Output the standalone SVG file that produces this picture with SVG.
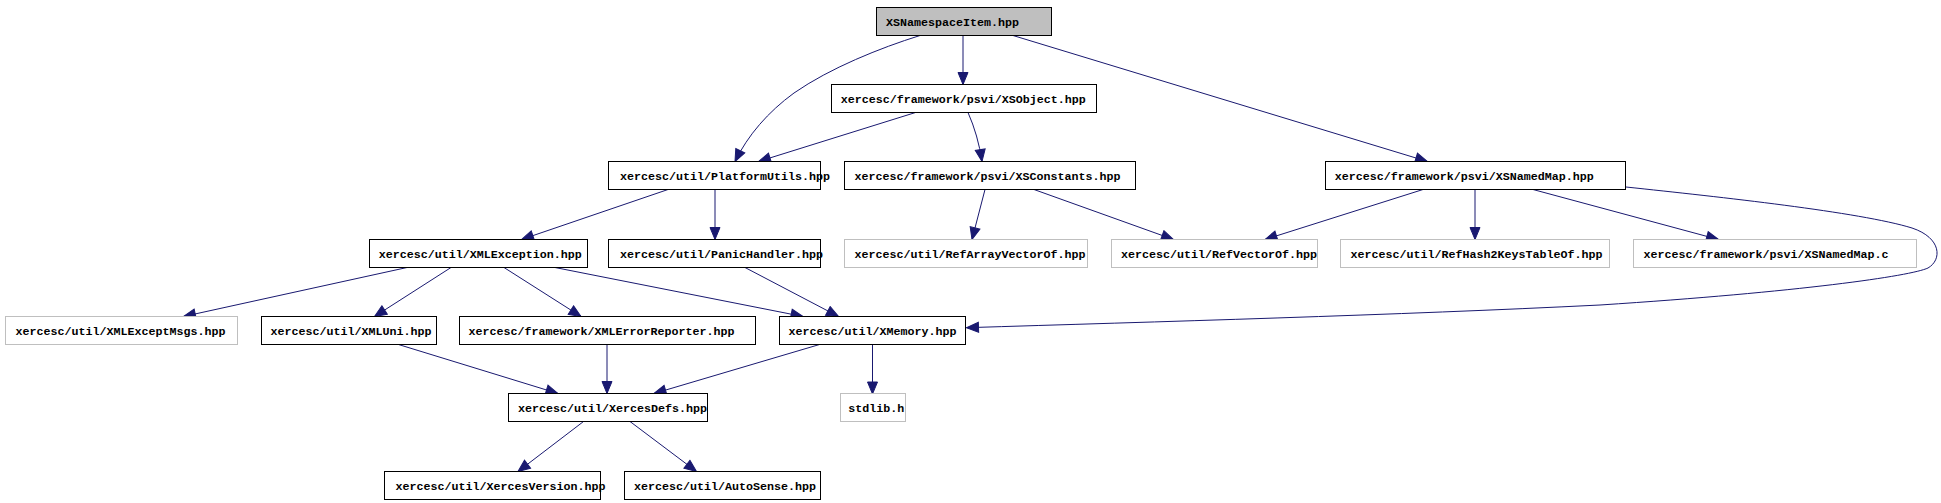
<svg xmlns="http://www.w3.org/2000/svg" width="1941" height="503" viewBox="0 0 1941 503">
<style>
.bg{fill:#ffffff}
.n rect{fill:#ffffff;stroke:#000000;stroke-width:1}
.n.u rect{stroke:#bfbfbf}
.n.root rect{fill:#bfbfbf}
.n text{font-family:"Liberation Mono","DejaVu Sans Mono",monospace;font-size:11.7px;font-weight:bold;fill:#000000}
.e path{fill:none;stroke:#191970;stroke-width:1;marker-end:url(#ah)}
</style>
<defs>
<marker id="ah" markerUnits="userSpaceOnUse" markerWidth="14" markerHeight="12" viewBox="0 0 14 12" refX="13" refY="6" orient="auto">
<path d="M1,1 L13,6 L1,11 z" fill="#191970" stroke="#191970" stroke-width="1"/>
</marker>
</defs>
<rect class="bg" x="0" y="0" width="1941" height="503"/>
<g id="connectors" class="e">
<path d="M920,35.5 C880,48 830,68 794,93 C768,112 748,135 735,161.5"/>
<path d="M963,35.5 L963,84.5"/>
<path d="M1013,35.5 L1427.5,161.5"/>
<path d="M915.5,112.5 L758.5,161.5"/>
<path d="M968,112.5 Q978,135 982,161.5"/>
<path d="M668,189.5 L521.5,239.5"/>
<path d="M715,189.5 L715,239.5"/>
<path d="M985,189.5 L972,239.5"/>
<path d="M1034,189.5 L1173.5,239.5"/>
<path d="M1423,189.5 L1265,239.5"/>
<path d="M1475,189.5 L1475,239.5"/>
<path d="M1533,189.5 L1718.5,239.5"/>
<path d="M1626,187 C1720,197 1860,212 1912,228 C1942,238 1942,260 1928,268 C1911,276 1800,292 1600,305 C1400,315 1150,322 966.5,327.7"/>
<path d="M407,267.5 L183.5,316.5"/>
<path d="M451,267.5 L374.5,316.5"/>
<path d="M504,267.5 L581,316.5"/>
<path d="M555,267.5 L803,316.5"/>
<path d="M745,267.5 L838.5,316.5"/>
<path d="M398.5,344.5 L558,393.5"/>
<path d="M607,344.5 L607,393.5"/>
<path d="M819.5,344.5 L654,393.5"/>
<path d="M872.5,344.5 L872.5,394"/>
<path d="M583.5,421.5 L518,471.5"/>
<path d="M630,421.5 L696.5,471.5"/>
</g>
<g id="n_XSNamespaceItem" class="n root"><rect x="876.5" y="7.5" width="175" height="28"/><text x="886" y="26" textLength="133" lengthAdjust="spacingAndGlyphs">XSNamespaceItem.hpp</text></g>
<g id="n_XSObject" class="n"><rect x="831.5" y="84.5" width="265" height="28"/><text x="840.7" y="103" textLength="245" lengthAdjust="spacingAndGlyphs">xercesc/framework/psvi/XSObject.hpp</text></g>
<g id="n_PlatformUtils" class="n"><rect x="608.5" y="161.5" width="212" height="28"/><text x="620" y="180" textLength="210" lengthAdjust="spacingAndGlyphs">xercesc/util/PlatformUtils.hpp</text></g>
<g id="n_XSConstants" class="n"><rect x="844.5" y="161.5" width="291" height="28"/><text x="854.5" y="180" textLength="266" lengthAdjust="spacingAndGlyphs">xercesc/framework/psvi/XSConstants.hpp</text></g>
<g id="n_XSNamedMap" class="n"><rect x="1325.5" y="161.5" width="300" height="28"/><text x="1334.8" y="180" textLength="259" lengthAdjust="spacingAndGlyphs">xercesc/framework/psvi/XSNamedMap.hpp</text></g>
<g id="n_XMLException" class="n"><rect x="369.5" y="239.5" width="218" height="28"/><text x="378.8" y="258" textLength="203" lengthAdjust="spacingAndGlyphs">xercesc/util/XMLException.hpp</text></g>
<g id="n_PanicHandler" class="n"><rect x="608.5" y="239.5" width="212" height="28"/><text x="620" y="258" textLength="203" lengthAdjust="spacingAndGlyphs">xercesc/util/PanicHandler.hpp</text></g>
<g id="n_RefArrayVectorOf" class="n u"><rect x="844.5" y="239.5" width="243" height="28"/><text x="854.5" y="258" textLength="231" lengthAdjust="spacingAndGlyphs">xercesc/util/RefArrayVectorOf.hpp</text></g>
<g id="n_RefVectorOf" class="n u"><rect x="1111.5" y="239.5" width="206" height="28"/><text x="1121" y="258" textLength="196" lengthAdjust="spacingAndGlyphs">xercesc/util/RefVectorOf.hpp</text></g>
<g id="n_RefHash2KeysTableOf" class="n u"><rect x="1340.5" y="239.5" width="269" height="28"/><text x="1350.4" y="258" textLength="252" lengthAdjust="spacingAndGlyphs">xercesc/util/RefHash2KeysTableOf.hpp</text></g>
<g id="n_XSNamedMap_c" class="n u"><rect x="1633.5" y="239.5" width="283" height="28"/><text x="1643.4" y="258" textLength="245" lengthAdjust="spacingAndGlyphs">xercesc/framework/psvi/XSNamedMap.c</text></g>
<g id="n_XMLExceptMsgs" class="n u"><rect x="5.5" y="316.5" width="232" height="28"/><text x="15.5" y="335" textLength="210" lengthAdjust="spacingAndGlyphs">xercesc/util/XMLExceptMsgs.hpp</text></g>
<g id="n_XMLUni" class="n"><rect x="261.5" y="316.5" width="175" height="28"/><text x="270.6" y="335" textLength="161" lengthAdjust="spacingAndGlyphs">xercesc/util/XMLUni.hpp</text></g>
<g id="n_XMLErrorReporter" class="n"><rect x="459.5" y="316.5" width="296" height="28"/><text x="468.6" y="335" textLength="266" lengthAdjust="spacingAndGlyphs">xercesc/framework/XMLErrorReporter.hpp</text></g>
<g id="n_XMemory" class="n"><rect x="779.5" y="316.5" width="186" height="28"/><text x="788.4" y="335" textLength="168" lengthAdjust="spacingAndGlyphs">xercesc/util/XMemory.hpp</text></g>
<g id="n_XercesDefs" class="n"><rect x="508.5" y="393.5" width="199" height="28"/><text x="517.9" y="412" textLength="189" lengthAdjust="spacingAndGlyphs">xercesc/util/XercesDefs.hpp</text></g>
<g id="n_stdlib" class="n u"><rect x="840.5" y="393.5" width="65" height="28"/><text x="848.2" y="412" textLength="56" lengthAdjust="spacingAndGlyphs">stdlib.h</text></g>
<g id="n_XercesVersion" class="n"><rect x="384.5" y="471.5" width="216" height="28"/><text x="395.4" y="490" textLength="210" lengthAdjust="spacingAndGlyphs">xercesc/util/XercesVersion.hpp</text></g>
<g id="n_AutoSense" class="n"><rect x="624.5" y="471.5" width="196" height="28"/><text x="634" y="490" textLength="182" lengthAdjust="spacingAndGlyphs">xercesc/util/AutoSense.hpp</text></g>
</svg>
